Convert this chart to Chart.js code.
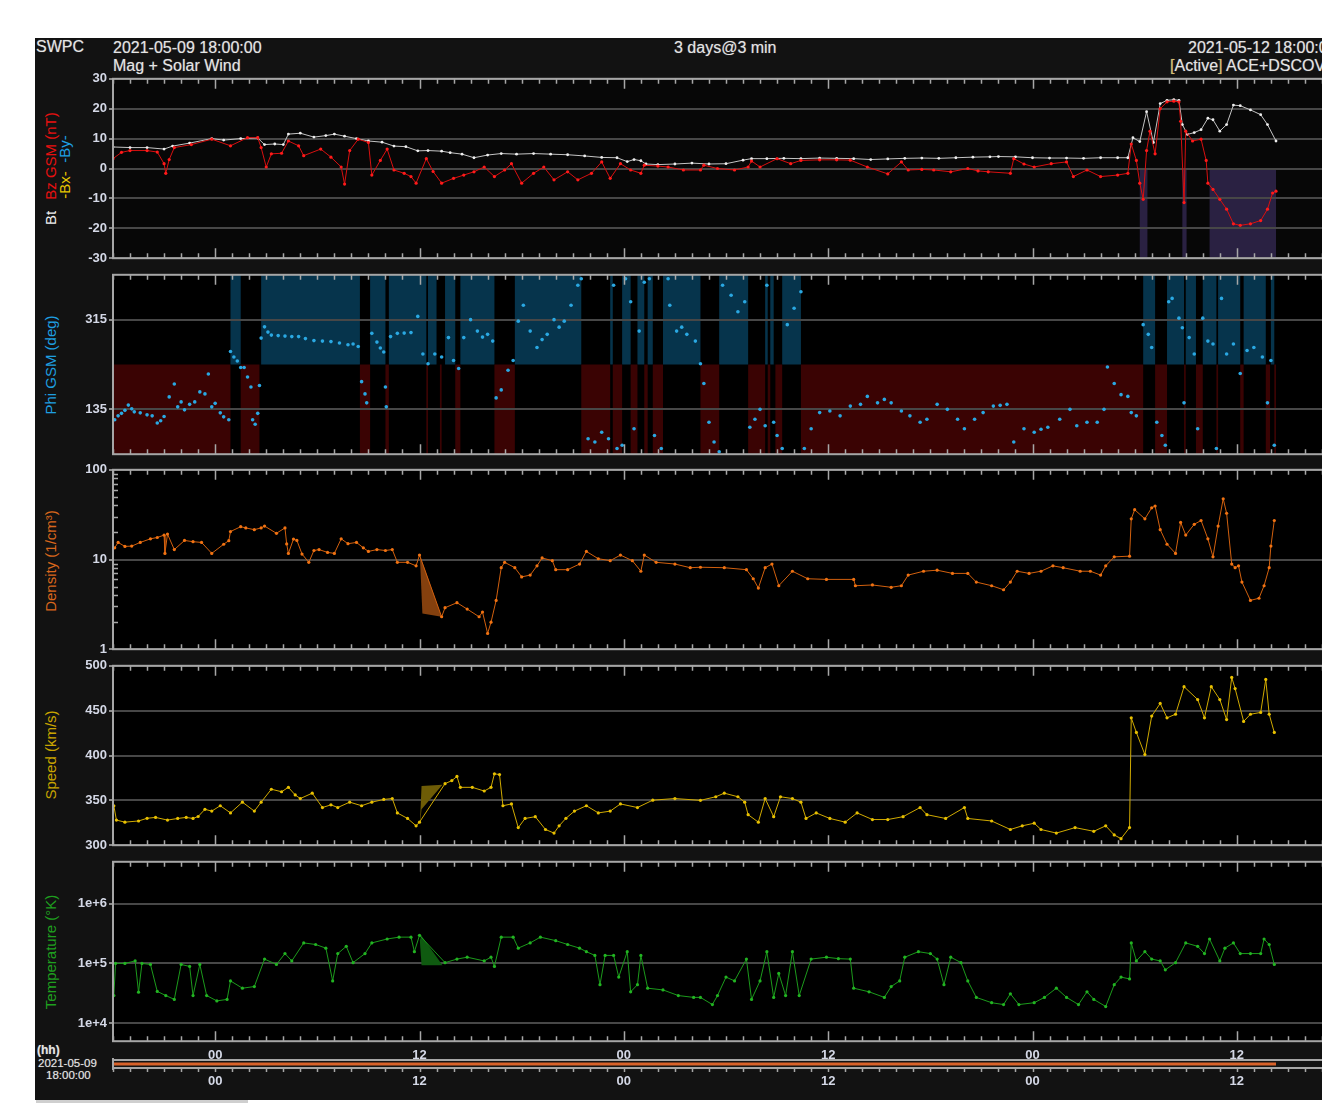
<!DOCTYPE html>
<html>
<head>
<meta charset="utf-8">
<title>SWPC Mag + Solar Wind</title>
<script src="https://cdn.jsdelivr.net/npm/chart.js@4.4.1/dist/chart.umd.min.js"></script>
<style>
  html, body { margin: 0; padding: 0; background: #fff; width: 1322px; height: 1111px; overflow: hidden; }
  #frame { position: absolute; left: 35px; top: 38px; width: 1320px; height: 1062px; background: #121212; }
  #scroll { position: absolute; left: 36px; top: 1100px; width: 212px; height: 3px; background: #cfcfcf; }
  canvas { position: absolute; left: 35px; }
  .t { position: absolute; color: #e4e4e4; font: 16px "Liberation Sans", Arial, sans-serif; white-space: nowrap; text-shadow: 0 0 1px #777; }
  .s { font-size: 11.5px; }
  .b { font-weight: bold; }
  .vt { position: absolute; white-space: nowrap; font: 15px "Liberation Sans", Arial, sans-serif; transform: translate(-50%, -50%) rotate(-90deg); }
</style>
</head>
<body>
<div id="frame"></div>
<div id="scroll"></div>

<div class="t" style="left:36px;top:38px">SWPC</div>
<div class="t" style="left:113px;top:39px">2021-05-09 18:00:00</div>
<div class="t" style="left:113px;top:57px">Mag + Solar Wind</div>
<div class="t" style="left:674px;top:39px">3 days@3 min</div>
<div class="t" style="left:1188px;top:39px">2021-05-12 18:00:00</div>
<div class="t" style="left:1170px;top:57px"><span style="color:#d8c070">[</span>Active<span style="color:#d8c070">]</span> ACE+DSCOVR</div>

<div class="vt" style="left:50px;top:218px;color:#f0f0f0">Bt</div>
<div class="vt" style="left:50px;top:156px;color:#e81010">Bz GSM (nT)</div>
<div class="vt" style="left:64px;top:185px;color:#e8c800">-Bx-</div>
<div class="vt" style="left:64px;top:149px;color:#1ea0e6">-By-</div>
<div class="vt" style="left:50px;top:365px;color:#1e9fe0">Phi GSM (deg)</div>
<div class="vt" style="left:50px;top:561px;color:#d8661c">Density (1/cm³)</div>
<div class="vt" style="left:50px;top:755px;color:#c9a400">Speed (km/s)</div>
<div class="vt" style="left:50px;top:952px;color:#1f9f1f">Temperature (°K)</div>

<div class="t b" style="left:37px;top:1043px;font-size:12px">(hh)</div>
<div class="t s" style="left:38px;top:1057px">2021-05-09</div>
<div class="t s" style="left:46px;top:1069px">18:00:00</div>

<canvas id="pMag"     width="1310" height="199" style="top:69px"></canvas>
<canvas id="pPhi"     width="1310" height="199" style="top:265px"></canvas>
<canvas id="pDensity" width="1310" height="199" style="top:460px"></canvas>
<canvas id="pSpeed"   width="1310" height="199" style="top:656px"></canvas>
<canvas id="pTemp"    width="1310" height="199" style="top:852px"></canvas>
<canvas id="pTime"    width="1310" height="50"  style="top:1043px"></canvas>

<script>
// hours since 2021-05-09 18:00 UTC
const HOURS_MAX = 72;

const majorTickHours  = [6, 18, 30, 42, 54, 66];
const majorTickLabels = ['00', '12', '00', '12', '00', '12'];
const magTicks   = [-30, -20, -10, 0, 10, 20, 30];
const phiTicks   = [135, 315];
const densTicks  = [1, 10, 100];
const speedTicks = [300, 350, 400, 450, 500];
const tempTicks  = [1e4, 1e5, 1e6];
const tempTickLabels = ['1e+4', '1e+5', '1e+6'];

// ── Data: [hour, value] ──────────────────────────────────────────────────────

const bt = [
  [0,7.2],[1,7.0],[2,7.0],[3,6.5],[3.5,7.5],[4.5,8.5],[5.8,10.0],[6.5,9.5],[7.5,10.0],[8.5,10.2],
  [8.9,8.0],[9.5,8.2],[10.0,8.0],[10.3,11.5],[11.0,11.8],[11.8,10.5],[12.5,11.0],[13.0,11.5],[13.6,10.8],[14.3,10.0],
  [15.0,9.2],[15.8,8.8],[16.5,7.5],[17.2,7.3],[17.9,5.9],[18.5,6.0],[19.3,5.8],[19.8,5.3],[20.5,4.8],[21.2,3.6],
  [22.0,4.5],[22.8,5.0],[23.7,4.8],[24.7,5.0],[25.7,4.8],[26.7,4.6],[27.7,4.2],[28.7,3.7],[29.6,3.6],[30.2,2.3],
  [30.6,3.0],[31.0,2.6],[31.3,1.5],[32,1.3],[33,1.5],[34,1.8],[35,1.5],[36,1.6],[37,2.8],[37.5,3.3],
  [38.4,3.3],[39.4,3.4],[40.4,3.3],[41.5,3.5],[42.5,3.4],[43.5,3.3],[44.5,3.0],[45.5,3.2],[46.5,3.4],[47.5,3.5],
  [48.5,3.4],[49.5,3.6],[50.5,3.8],[51.5,3.9],[52.0,4.0],[53,3.9],[54,3.6],[55,3.5],[56,3.5],[57,3.4],
  [58,3.6],[59,3.6],[59.6,3.6],[59.9,10.3],[60.3,9],[60.7,19],[61.1,8.7],[61.5,21.7],[61.9,22.8],[62.3,23],
  [62.6,22.8],[62.8,14.7],[63.1,11.4],[63.5,12],[63.9,13],[64.3,16.8],[64.6,16.3],[65.0,12.5],[65.4,14.7],[65.8,21.2],
  [66.2,21.0],[66.8,19.6],[67.4,18.0],[67.8,14.7],[68.3,9.2],
];

const bz = [
  [0,3.3],[0.5,5.4],[1,6],[2,6],[2.6,5.5],[3,1.6],[3.1,-1.6],[3.3,3],[3.6,7],[4.6,8],
  [5.8,9.8],[6.9,7.6],[7.9,10.3],[8.5,10.3],[8.7,7],[9,0.5],[9.3,4.9],[9.9,5.1],[10.3,9.2],[10.9,7.6],
  [11.2,4.3],[12.2,6.5],[12.8,3.8],[13.4,0.5],[13.6,-5.2],[13.9,6],[14.4,9.8],[15,8.7],[15.2,-2.2],[15.7,2.7],
  [16.1,6.5],[16.5,-0.5],[17.1,-1.6],[17.5,-2.7],[17.8,-4.9],[18.4,3.3],[18.8,-1],[19.3,-4.9],[20,-3.3],[20.6,-2.2],
  [21.2,-1.1],[21.8,0.5],[22.4,-2.7],[23,-0.5],[23.4,1.6],[24,-4.9],[24.7,-1.6],[25.3,0.5],[25.9,-3.8],[26.7,-1.1],
  [27.3,-3.8],[28.1,-1.6],[28.7,2.2],[29.2,-3.3],[29.8,1.6],[30.4,-0.5],[31,-1.6],[31.2,1.1],[32,0.8],[32.6,0.5],
  [33.5,-0.5],[34.5,-0.5],[34.7,1.1],[35.5,0],[36.5,-0.5],[37.3,0.5],[37.5,2.5],[38,0.5],[39,3.3],[39.8,1.6],
  [40.4,2.7],[41.5,2.9],[42.5,2.9],[43.3,2.8],[44.3,0.5],[45.5,-1.8],[46.3,2.2],[46.7,-0.5],[47.5,-0.3],[48.2,-0.5],
  [49.2,-1.1],[50.2,0],[50.8,-0.8],[51.4,-1.1],[52.7,-1.6],[52.9,3.3],[53.5,1.5],[54.1,0.5],[55.1,1.6],[56,2.2],
  [56.4,-2.7],[57.2,-0.5],[58,-2.7],[59,-2.2],[59.6,-1.6],[59.8,8.2],[60.1,2.7],[60.3,-4.9],[60.5,-10.3],[60.7,6],
  [60.9,12.5],[61.2,4.9],[61.5,20],[61.9,22.3],[62.3,22.5],[62.6,22.3],[62.7,15.8],[62.9,-11.4],[63,12.5],[63.4,9.2],
  [63.9,9.8],[64.2,2.7],[64.3,-4.9],[64.6,-7],[65,-10.3],[65.4,-13.6],[65.8,-18.5],[66.2,-19],[66.8,-18.5],[67.4,-17.4],
  [67.8,-13.6],[68.1,-8.2],[68.3,-7.6],
];

// intervals of strongly southward Bz (shaded 0 → -30)
const southBands = [[60.3, 60.75], [62.8, 63.05], [64.4, 68.3]];

const phi = [
  [0.1,114],[0.3,122],[0.5,127],[0.7,133],[0.9,143.5],[1.1,136],[1.25,130],[1.6,128],[2,124],[2.3,122],
  [2.6,107.5],[2.8,112],[3,120.6],[3.3,160],[3.6,186],[3.8,140],[4,150],[4.2,134],[4.5,145],[4.8,150],
  [5.1,170],[5.4,166],[5.6,206],[5.8,140],[6,147],[6.3,128],[6.5,120],[6.8,114],[6.9,251],[7.1,240],
  [7.3,232],[7.5,219],[7.7,219],[7.9,200],[8.1,180],[8.2,114],[8.35,105],[8.5,127],[8.6,183],[8.7,278],
  [8.9,300.6],[9.1,290],[9.3,284],[9.7,283],[10.1,282],[10.5,281],[10.9,281],[11.3,277],[11.8,273],[12.3,272],
  [12.8,271],[13.3,268],[13.8,264.6],[14.1,266],[14.4,261],[14.6,190.6],[14.8,166],[14.9,148],[15.2,287.5],[15.5,270],
  [15.7,258],[15.9,250],[16,180],[16.05,140],[16.3,281],[16.7,287.5],[17.1,288],[17.5,289],[17.9,321.5],[18.2,246],
  [18.5,226.6],[18.9,246],[19.3,240],[19.7,279],[20,233],[20.3,217],[20.6,279],[21,315],[21.4,292],[21.7,280],
  [22,285.5],[22.3,272],[22.5,158],[22.8,174],[23.2,213.5],[23.5,233],[23.8,312],[24.1,344],[24.5,292],[24.9,259],
  [25.2,275],[25.5,285.5],[25.9,315],[26.2,300],[26.5,312],[26.9,344],[27.3,384],[27.5,397],[27.9,76],[28.3,69.5],
  [28.7,89],[29.1,76],[29.4,384],[29.6,56.5],[29.9,63],[30.1,397],[30.4,351],[30.6,96],[30.9,292],[31.2,390],
  [31.5,397],[31.8,82.6],[32.2,56.5],[32.6,397],[32.7,344],[33.1,292],[33.4,300],[33.7,285.5],[34.2,272],[34.5,226.6],
  [34.7,187],[35,109],[35.3,69.5],[35.6,50],[35.8,384],[36.3,364],[36.7,331],[37.1,351],[37.4,99],[37.7,115],
  [38,135],[38.3,102],[38.4,384],[38.8,109],[39,82.6],[39.3,56.5],[39.6,305],[40,338],[40.4,371],[40.6,56.5],
  [41,96],[41.5,128.5],[42.1,131.7],[42.7,122],[43.3,141.5],[43.9,145],[44.3,161],[44.9,148],[45.3,155],[45.7,148],
  [46.3,131.7],[46.8,122],[47.4,109],[47.8,115],[48.4,145],[49,135],[49.6,115],[50,96],[50.6,115],[51.1,128.5],
  [51.7,141.5],[52.1,143],[52.5,145],[52.9,69.5],[53.5,96],[54.1,89],[54.5,95],[54.9,99],[55.6,115],[56.2,135],
  [56.6,102],[57.2,109],[57.8,109],[58.2,135],[58.4,220],[58.8,187],[59.2,164.5],[59.6,161],[59.8,128.5],[60.1,122],
  [60.5,305],[60.8,285.5],[61,259],[61.3,109],[61.6,82.6],[61.8,63],[62,351],[62.2,357.6],[62.6,318],[62.8,298.6],
  [62.9,148],[63.2,279],[63.5,246],[63.7,96],[64,318],[64.3,272],[64.6,266],[64.8,56.5],[65.1,357.6],[65.4,246],
  [65.8,266],[66.2,207],[66.6,253],[67,259],[67.5,240],[67.8,148],[68,233],[68.2,63],
];

// background bands: away sector (upper half, blue) / toward sector (lower half, red)
const phiAwayBands = [
  [6.9,7.5],[8.7,14.5],[15.1,16],[16.2,18.4],[18.5,19.0],[19.5,20.1],[20.4,22.4],[23.6,27.5],[29.2,29.35],[29.9,30.4],
  [30.8,31.2],[31.4,31.7],[32.3,34.5],[35.6,37.3],[38.3,38.45],[38.6,38.8],[39.3,40.4],[60.5,61.2],[61.9,62.9],[63.0,63.6],
  [64.0,64.8],[64.9,66.2],[66.4,67.7],[68.0,68.2],
];
const phiTowardBands = [
  [0,6.9],[7.5,8.6],[14.5,15.1],[16.0,16.2],[18.4,18.5],[19.2,19.3],[20.1,20.4],[22.4,23.6],[27.5,29.2],[29.35,29.9],
  [30.4,30.8],[31.2,31.4],[31.7,32.3],[34.5,35.6],[37.3,38.3],[38.45,38.6],[38.9,39.3],[40.4,60.5],[61.2,61.9],[62.9,63.0],
  [63.6,64.0],[64.8,64.9],[66.2,66.4],[67.7,67.95],[68.2,68.3],
];

const density = [
  [0.1,13.5],[0.3,15.5],[0.7,14],[1.1,14.1],[1.6,15.5],[2.2,17],[2.6,17.6],[3,18.7],[3.05,11.7],[3.2,19.2],
  [3.6,12.9],[4.2,16.3],[4.7,15.8],[5.2,15.5],[5.8,11.7],[6.5,14.8],[6.8,16.2],[6.9,20.5],[7.5,23.2],[7.8,22.5],
  [8.3,21.5],[8.7,22.5],[8.9,23.6],[9.6,19.6],[10.1,22.5],[10.2,14.9],[10.3,11.7],[10.6,16.9],[10.8,16.3],[11.1,11.5],
  [11.5,9.3],[11.8,12.6],[12.1,12.9],[12.6,12],[13,11.7],[13.4,17],[13.8,15],[14.3,15.5],[14.7,13.5],[15,12.3],
  [15.5,12.9],[16,12.6],[16.4,12.9],[16.7,9.3],[17.3,9.3],[17.8,8.5],[18,11.2],[19.3,2.3],[19.5,2.9],[20.2,3.3],
  [20.8,2.8],[21.5,2.3],[21.7,2.6],[22,1.5],[22.2,2.0],[22.5,3.5],[22.8,8.1],[23,9.3],[23.6,8.1],[24,6.4],
  [24.5,6.7],[24.9,8.5],[25.2,10.4],[25.8,9.7],[26,7.7],[26.7,7.7],[27.4,8.9],[27.8,12.3],[28.5,10.2],[29.2,9.7],
  [29.8,11.2],[30.5,9.7],[31,7.4],[31.2,11.2],[31.9,9.3],[33,8.9],[33.9,8.1],[34.5,8.2],[35.9,8.1],[37.2,7.7],
  [37.6,6.1],[37.9,4.8],[38.3,8.1],[38.7,8.9],[39.1,5.1],[39.9,7.4],[40.8,6.1],[41.9,6.0],[43.5,6.0],[43.6,5.1],
  [44.6,5.2],[45.7,4.9],[46.3,5.1],[46.7,6.7],[47.6,7.4],[48.4,7.6],[49.3,7.0],[50.2,7.0],[50.7,5.6],[51.6,5.1],
  [52.3,4.6],[52.7,5.6],[53.1,7.4],[53.8,7.0],[54.5,7.4],[55.2,8.5],[55.8,8.1],[56.8,7.4],[57.4,7.4],[58,6.7],
  [58.3,8.5],[58.8,10.7],[59.7,10.9],[59.8,28.4],[60,35.9],[60.6,28.4],[61,37.7],[61.2,39.5],[61.5,21.5],[61.9,14.8],
  [62.4,11.7],[62.7,25.9],[63,18.7],[63.5,24.7],[63.9,27.2],[64.3,17],[64.6,10.7],[64.9,23.6],[65.2,47.5],[65.4,32.8],
  [65.7,8.9],[65.9,8.1],[66.1,8.5],[66.3,5.6],[66.8,3.5],[67.3,3.7],[67.6,5.1],[67.9,8.1],[68,14.1],[68.2,27.2],
];
const densityGap = [[18.02,11.2],[18.17,2.5],[19.3,2.3]];

const speed = [
  [0.05,344],[0.2,328],[0.7,325.7],[1.5,327],[2,330],[2.5,331],[3.2,328],[3.8,329.8],[4.3,331],[4.7,329.8],
  [5,332],[5.4,340],[5.8,338],[6.3,344],[6.9,336],[7.6,348],[8.3,338],[8.7,348],[9.3,362.4],[9.9,359.6],
  [10.3,364.5],[10.7,356],[11,352],[11.7,358],[12.3,342],[12.8,345],[13.2,342],[13.9,348],[14.6,344],[15.2,348],
  [15.9,351],[16.4,352],[16.7,336],[17.3,329.8],[17.8,321.6],[18,325.7],[19.5,368.6],[19.9,372],[20.2,376.7],[20.4,364.5],
  [21.1,364.5],[21.8,360.4],[22.2,364.5],[22.4,379.6],[22.7,378.7],[22.9,344],[23.4,346],[23.8,319.6],[24.2,329.8],[24.8,331.8],
  [25.4,317.5],[25.9,313.5],[26.2,321.6],[26.6,330],[27.1,338],[27.8,344],[28.5,336],[29.2,338],[29.8,346],[30.8,342],
  [31.7,350.2],[33,352],[34.5,350],[35.4,354],[35.9,358],[36.7,354],[37.1,348],[37.3,334],[37.9,325.7],[38.3,352],
  [38.8,331.8],[39.2,354],[39.9,352],[40.4,348],[40.7,329.8],[41.3,336],[42.1,329.8],[43,325.7],[43.7,336],[44.6,328.6],
  [45.5,328.6],[46.4,331.8],[47.4,342],[47.8,334],[48.9,329.8],[50,342],[50.2,329.8],[51.6,327],[52.7,317.5],[53.4,321.6],
  [54.1,324.5],[54.5,317.5],[55.4,313.5],[56.5,319.6],[57.6,315.5],[58.3,321.6],[58.8,311.4],[59.2,307.3],[59.7,319.6],[59.8,442],
  [60.1,425.7],[60.6,401],[61,444],[61.5,458],[61.9,442],[62.4,446],[62.9,476.7],[63.7,462.4],[64.1,442],[64.5,476.7],
  [65,462.4],[65.4,440],[65.7,487],[65.9,474.6],[66.4,438],[66.8,446],[67.4,448],[67.7,484.8],[67.9,446],[68.2,425.7],
];
const speedGap = [[18.02,322],[18.12,366],[19.35,367.5],[18.12,340]];

const temperature = [
  [0.05,2.9e4],[0.15,1.0e5],[0.7,1.0e5],[1.3,1.1e5],[1.5,3.3e4],[1.7,1.0e5],[2.2,9.6e4],[2.6,3.4e4],[3.1,2.9e4],[3.6,2.5e4],
  [4,9.6e4],[4.5,8.9e4],[4.7,2.9e4],[5.1,9.6e4],[5.5,2.9e4],[6.1,2.36e4],[6.7,2.5e4],[6.9,5.1e4],[7.6,3.85e4],[8.3,4.1e4],
  [8.9,1.18e5],[9.6,9.6e4],[10.1,1.46e5],[10.5,1.1e5],[11.2,2.2e5],[11.9,2.07e5],[12.5,1.8e5],[12.9,5.1e4],[13.2,1.46e5],[13.7,1.93e5],
  [14.1,1.03e5],[14.8,1.46e5],[15.2,2.2e5],[16.1,2.56e5],[16.8,2.75e5],[17.5,2.75e5],[17.7,1.57e5],[18,2.95e5],[19.5,1.03e5],[20.2,1.18e5],
  [20.8,1.27e5],[21.8,1.1e5],[22.2,1.27e5],[22.4,8.9e4],[22.8,2.75e5],[23.5,2.75e5],[23.8,1.8e5],[24.5,2.2e5],[25.1,2.75e5],[26,2.4e5],
  [26.7,2.07e5],[27.4,1.8e5],[27.8,1.57e5],[28.3,1.36e5],[28.6,4.4e4],[28.9,1.36e5],[29.4,1.36e5],[29.7,5.9e4],[30.2,1.57e5],[30.4,3.35e4],
  [30.8,4.4e4],[31,1.36e5],[31.4,3.85e4],[32.3,3.6e4],[33.2,2.9e4],[34.1,2.7e4],[34.5,2.7e4],[35.2,2.05e4],[35.5,2.9e4],[36,5.9e4],
  [36.5,5.1e4],[37.2,1.18e5],[37.5,2.5e4],[38,5.1e4],[38.4,1.57e5],[38.8,2.7e4],[39.1,6.8e4],[39.5,2.9e4],[39.9,1.57e5],[40.3,2.9e4],
  [41,1.18e5],[41.9,1.27e5],[42.6,1.2e5],[43.3,1.18e5],[43.5,3.85e4],[44.4,3.35e4],[45.3,2.7e4],[45.7,4.1e4],[46.2,5.1e4],[46.5,1.27e5],
  [47.3,1.57e5],[48,1.46e5],[48.4,1.18e5],[48.8,4.4e4],[49.2,1.27e5],[49.8,1.03e5],[50.2,5.1e4],[50.7,2.7e4],[51.6,2.2e4],[52.3,2.05e4],
  [52.7,3.1e4],[53.2,2.05e4],[54.1,2.2e4],[54.7,2.7e4],[55.4,3.85e4],[56,2.7e4],[56.7,2.05e4],[57.2,3.35e4],[57.6,2.5e4],[58.3,1.9e4],
  [58.8,4.4e4],[59.2,5.9e4],[59.7,5.5e4],[59.8,2.2e5],[60.1,1.1e5],[60.6,1.57e5],[61,1.18e5],[61.5,1.1e5],[61.8,7.8e4],[62.4,1.03e5],
  [63,2.2e5],[63.7,1.93e5],[64.1,1.46e5],[64.4,2.56e5],[65,1.1e5],[65.3,1.8e5],[65.8,2.2e5],[66.2,1.46e5],[66.8,1.46e5],[67.4,1.46e5],
  [67.6,2.56e5],[67.9,2.07e5],[68.2,9.6e4],
];
const temperatureGap = [[18.02,2.4e5],[18.1,2.95e5],[19.35,9.3e4],[18.12,9.3e4]];

// span of data received (bar under the time axis)
const coverage = [[0, 0], [68.3, 0]];

// ── Helpers ───────────────────────────────────────────────────────────────────

Chart.defaults.font.family = '"Liberation Sans", Arial, sans-serif';

const TICK_COLOR  = '#d4d8e6';
const FRAME_COLOR = '#a6a6a6';
const GRID_COLOR  = '#474747';

const pts = arr => arr.map(([x, y]) => ({ x, y }));

function series(data, color, extra = {}) {
  return Object.assign({
    data: pts(data),
    borderColor: color,
    backgroundColor: color,
    borderWidth: 1,
    pointRadius: 1.6,
    pointBorderWidth: 0,
    pointHoverRadius: 0,
    tension: 0,
    fill: false,
  }, extra);
}

function gapShape(data, color) {
  return series(data, 'rgba(0,0,0,0)', {
    backgroundColor: color, fill: 'shape', pointRadius: 0, borderWidth: 0, order: 9,
  });
}

// frame, inward hour ticks, background bands
const panelDecor = {
  id: 'panelDecor',
  beforeDraw(chart, args, opts) {
    const { ctx, chartArea: a, scales } = chart;
    ctx.save();
    if (opts.bg) {
      ctx.fillStyle = opts.bg;
      ctx.fillRect(a.left, a.top, a.width, a.height);
    }
    (opts.bands || []).forEach(b => {
      const y1 = scales.y.getPixelForValue(b.from);
      const y2 = scales.y.getPixelForValue(b.to);
      ctx.fillStyle = b.color;
      b.ranges.forEach(([s, e]) => {
        const x1 = scales.x.getPixelForValue(s);
        const x2 = scales.x.getPixelForValue(e);
        ctx.fillRect(x1, Math.min(y1, y2), Math.max(1, x2 - x1), Math.abs(y2 - y1));
      });
    });
    ctx.restore();
  },
  afterDraw(chart, args, opts) {
    const { ctx, chartArea: a, scales } = chart;
    ctx.save();
    ctx.strokeStyle = FRAME_COLOR;
    ctx.lineWidth = 1.5;
    ctx.beginPath();
    for (let h = 0; h <= HOURS_MAX; h++) {
      const x = Math.round(scales.x.getPixelForValue(h)) + 0.5;
      if (opts.bar) {
        ctx.moveTo(x, a.bottom); ctx.lineTo(x, a.bottom + 4);
        continue;
      }
      const len = majorTickHours.includes(h) ? 10 : 5;
      ctx.moveTo(x, a.top); ctx.lineTo(x, a.top + len);
      ctx.moveTo(x, a.bottom); ctx.lineTo(x, a.bottom - len);
    }
    if (opts.logMinor) {
      opts.logMinor.forEach(dec => {
        for (let m = 2; m <= 9; m++) {
          const y = Math.round(scales.y.getPixelForValue(m * dec)) + 0.5;
          ctx.moveTo(a.left, y); ctx.lineTo(a.left + 5, y);
        }
      });
    }
    ctx.stroke();
    ctx.lineWidth = 2;
    if (opts.bar) {
      ctx.beginPath();
      ctx.moveTo(a.left, a.top); ctx.lineTo(a.right, a.top);
      ctx.moveTo(a.left, a.bottom); ctx.lineTo(a.right, a.bottom);
      ctx.moveTo(a.left, a.top - 2); ctx.lineTo(a.left, a.bottom + 2);
      ctx.stroke();
    } else {
      ctx.strokeRect(a.left, a.top, a.width, a.height);
    }
    ctx.restore();
  },
};

function yAxis(type, min, max, tickValues, labelFn) {
  return {
    type, min, max,
    afterFit: s => { s.width = 78; },
    afterBuildTicks: s => { s.ticks = tickValues.map(v => ({ value: v })); },
    ticks: {
      color: TICK_COLOR,
      font: { size: 13, weight: 'bold' },
      padding: 2,
      autoSkip: false,
      callback: labelFn || (v => String(v)),
    },
    grid: { color: GRID_COLOR, lineWidth: 2, drawTicks: true, tickLength: 4, tickColor: '#8c8c8c' },
    border: { display: false },
  };
}

function hourAxis(position, height, padding) {
  return {
    type: 'linear', position, min: 0, max: HOURS_MAX,
    afterFit: s => { s.height = height; },
    afterBuildTicks: s => { s.ticks = majorTickHours.map(v => ({ value: v })); },
    ticks: {
      color: TICK_COLOR, font: { size: 13, weight: 'bold' }, padding,
      maxRotation: 0, autoSkip: false,
      callback: (v, i) => majorTickLabels[i],
    },
    grid: { display: false, drawTicks: false },
    border: { display: false },
  };
}

function makePanel(id, yScale, datasets, decor) {
  return new Chart(document.getElementById(id), {
    type: 'line',
    data: { datasets },
    options: {
      responsive: false,
      animation: false,
      events: [],
      layout: { padding: { top: 8, bottom: 8, left: 0, right: 6 } },
      plugins: { legend: { display: false }, tooltip: { enabled: false }, panelDecor: decor },
      scales: {
        x: { type: 'linear', min: 0, max: HOURS_MAX, display: false },
        y: yScale,
      },
    },
    plugins: [panelDecor],
  });
}

// ── Panels ────────────────────────────────────────────────────────────────────

function drawAll() {
  makePanel('pMag', yAxis('linear', -30, 30, magTicks), [
    series(bz, '#ff1a1a', { borderColor: '#d81010', order: 0 }),
    series(bt, '#eeeeee', { borderColor: '#c4c4c4', pointRadius: 1.4, order: 1 }),
  ], {
    bg: '#070707',
    bands: [{ ranges: southBands, from: 0, to: -30, color: '#2a2142' }],
  });

  makePanel('pPhi', yAxis('linear', 45, 405, phiTicks), [
    series(phi, '#2aa8e2', { showLine: false, pointRadius: 1.8 }),
  ], {
    bg: '#000',
    bands: [
      { ranges: phiAwayBands,   from: 225, to: 405, color: '#06344c' },
      { ranges: phiTowardBands, from: 45,  to: 225, color: '#3a0303' },
    ],
  });

  makePanel('pDensity', yAxis('logarithmic', 1, 100, densTicks), [
    series(density, '#f07212', { borderColor: '#d2600e' }),
    gapShape(densityGap, '#84400e'),
  ], { bg: '#000', logMinor: [1, 10] });

  makePanel('pSpeed', yAxis('linear', 300, 500, speedTicks), [
    series(speed, '#e8c000', { borderColor: '#d0aa00' }),
    gapShape(speedGap, '#6e5c06'),
  ], { bg: '#000' });

  makePanel('pTemp', yAxis('logarithmic', 5e3, 5e6, tempTicks, (v, i) => tempTickLabels[i]), [
    series(temperature, '#22b422', { borderColor: '#1c9a1c' }),
    gapShape(temperatureGap, '#0f5a10'),
  ], { bg: '#000' });

  new Chart(document.getElementById('pTime'), {
    type: 'line',
    data: { datasets: [series(coverage, '#d8622a', { borderWidth: 3, pointRadius: 0 })] },
    options: {
      responsive: false,
      animation: false,
      events: [],
      layout: { padding: { left: 78, right: 6, top: 0, bottom: 0 } },
      plugins: { legend: { display: false }, tooltip: { enabled: false }, panelDecor: { bar: true } },
      scales: {
        x: hourAxis('top', 17, -3),
        x2: hourAxis('bottom', 25, 6),
        y: { min: -1, max: 1, display: false },
      },
    },
    plugins: [panelDecor],
  });
}

document.addEventListener('DOMContentLoaded', drawAll);
</script>
</body>
</html>
